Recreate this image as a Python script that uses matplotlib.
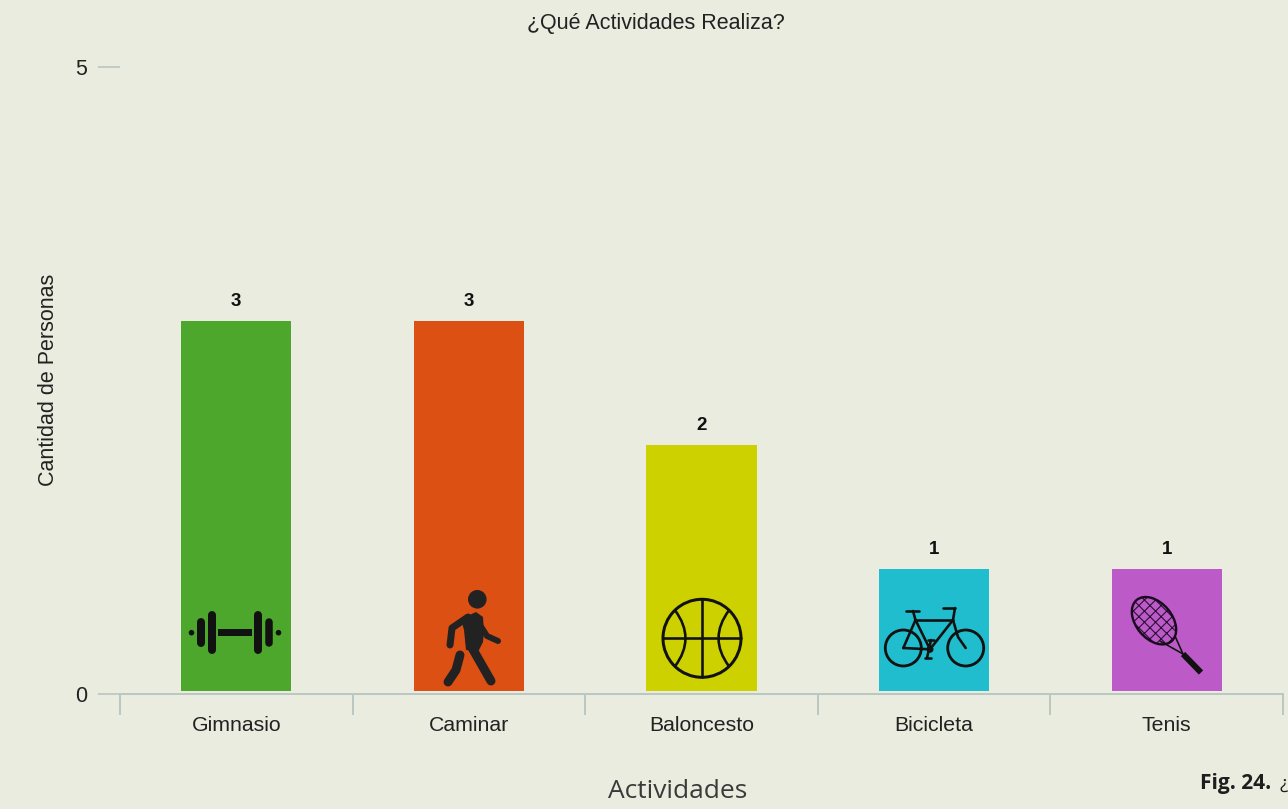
import matplotlib
matplotlib.use('Agg')
import matplotlib.pyplot as plt
import numpy as np
from matplotlib.patches import Circle, Ellipse, PathPatch, Polygon, Rectangle
from matplotlib.path import Path

actividades = ['Gimnasio', 'Caminar', 'Baloncesto', 'Bicicleta', 'Tenis']
personas = [3, 3, 2, 1, 1]
colores = ['#4CA72C', '#DD5014', '#CDD100', '#1FBDCD', '#BC5BC8']
ytick_labels = ['0', '5']

W, H = 1288, 809
fondo = '#EAECDF'
gris = '#B9C6C2'
texto = '#222222'
negro = '#111111'
px = 0.72  # 1 pixel en puntos

plt.rcParams['font.family'] = ['Liberation Sans', 'DejaVu Sans']
plt.rcParams['hatch.linewidth'] = 0.8

fig = plt.figure(figsize=(W / 100, H / 100), dpi=100, facecolor=fondo)
ax = fig.add_axes([120 / W, 1 - 693.5 / H, (1283 - 120) / W, (693.5 - 67) / H], facecolor=fondo)

# las barras arrancan un poco arriba del eje, igual que en la imagen
gap = 0.02
tope = 5.04  # en la imagen el 5 queda un poco mas alto que la escala de las barras
x = np.arange(len(actividades))
alturas = np.array(personas) - gap
ax.bar(x, alturas, bottom=gap, width=0.473, color=colores, linewidth=0)
for xi, v in zip(x, personas):
    ax.annotate(str(v), (xi, v), xytext=(0, 14), textcoords='offset points',
                ha='center', va='center', fontsize=13.5, fontweight='bold', color=negro)

ax.set_xlim(-0.5, len(actividades) - 0.5)
ax.set_ylim(0, tope)
ax.set_xticks(np.arange(len(actividades) + 1) - 0.5)
ax.set_xticklabels([])
ax.set_xticks(x, minor=True)
ax.set_xticklabels(actividades, minor=True, fontsize=15.3, color=texto)
ax.tick_params(axis='x', which='major', length=15, width=1.4, color=gris)
ax.tick_params(axis='x', which='minor', length=0, pad=16)
ax.set_yticks([0, tope])
ax.set_yticklabels(ytick_labels)
ax.tick_params(axis='y', length=15.5, width=1.2, color=gris, labelsize=15.5, labelcolor=texto, pad=8)
for s in ['top', 'right', 'left']:
    ax.spines[s].set_visible(False)
ax.spines['bottom'].set_color(gris)
ax.spines['bottom'].set_linewidth(1.4)

fig.text(656 / W, 1 - 23 / H, '¿Qué Actividades Realiza?', ha='center', va='center', fontsize=15.5, color=texto)
fig.text(49 / W, 1 - 380 / H, 'Cantidad de Personas', rotation=90, ha='center', va='center', fontsize=15.5, color=texto)
fig.text(678 / W, 1 - 791 / H, 'Actividades', ha='center', va='center', fontsize=19, color='#3A3A3A',
         family='Open Sans')
fig.text(1200 / W, 1 - 783 / H, 'Fig. 24.', ha='left', va='center', fontsize=15, fontweight='bold',
         color='#1E1E1E', family='Open Sans')
fig.text(1279 / W, 1 - 784 / H, '¿', ha='left', va='center', fontsize=14, color='#1E1E1E', family='Open Sans')

# capa en pixeles para los iconos dentro de las barras
ic = fig.add_axes([0, 0, 1, 1], facecolor='none')
ic.set_xlim(0, W)
ic.set_ylim(H, 0)
ic.axis('off')


def linea(xs, ys, lw, color=negro):
    ic.plot(xs, ys, color=color, lw=lw * px, solid_capstyle='round', solid_joinstyle='round')


# pesa
yc = 632.7
for xp, alto, grueso in [(201, 10.5, 8), (212, 17.5, 8), (258, 17.5, 8), (269.5, 10.5, 7.5)]:
    linea([xp, xp], [yc - alto, yc + alto], grueso)
ic.add_patch(Rectangle((218, yc - 3.5), 34, 7, color=negro, lw=0))
ic.add_patch(Circle((191.5, yc), 2.8, color=negro, lw=0))
ic.add_patch(Circle((278.5, yc), 2.8, color=negro, lw=0))

# persona caminando
c_caminar = '#222222'
ic.add_patch(Circle((477.3, 599.3), 9.3, color=c_caminar, lw=0))
ic.add_patch(Polygon([(461, 619), (476, 612), (483, 617), (484, 632), (483, 642), (478, 652), (466, 650), (464, 630)],
                     color=c_caminar, lw=0))
linea([468, 452, 450], [617, 628, 645], 7, c_caminar)
linea([480, 487, 498], [625, 636, 641], 6, c_caminar)
linea([471, 491], [646, 681], 9, c_caminar)
linea([460, 456, 448], [655, 670, 682], 9, c_caminar)

# pelota
cx, cy, r = 702, 638.3, 39
ic.add_patch(Circle((cx, cy), r, fill=False, ec=negro, lw=3 * px))
linea([cx, cx], [cy - r, cy + r], 2.6)
linea([cx - r, cx + r], [cy, cy], 2.6)
for xb, ctrl in [(675, 696), (729, 708)]:
    p = Path([(xb, cy - 28), (ctrl, cy), (xb, cy + 28)], [Path.MOVETO, Path.CURVE3, Path.CURVE3])
    ic.add_patch(PathPatch(p, fill=False, ec=negro, lw=2.6 * px))

# bicicleta
for wx in [903.3, 965.7]:
    ic.add_patch(Circle((wx, 648), 18, fill=False, ec=negro, lw=2.8 * px))
bici = [
    ([903.3, 930], [648, 649.3]),
    ([903.3, 915.5], [648, 620]),
    ([915.5, 930], [620, 649.3]),
    ([915.5, 953], [620, 620]),
    ([953, 930], [620, 649.3]),
    ([913, 915.5], [611, 620]),
    ([906, 919], [611, 611]),
    ([943, 955], [608, 608]),
    ([955, 953, 958, 965.7], [608, 620, 637, 648]),
    ([931, 929, 927], [640, 649, 658]),
    ([928, 934], [640, 640]),
    ([925, 931], [658, 658]),
]
for xs, ys in bici:
    linea(xs, ys, 2.6)
ic.add_patch(Circle((930, 649.3), 3.5, color=negro, lw=0))

# raqueta
cr = (1154, 620.7)
ic.add_patch(Ellipse(cr, 54, 36, angle=50, fill=False, ec='#2A0F33', hatch='xxx', lw=0))
ic.add_patch(Ellipse(cr, 54, 36, angle=50, fill=False, ec='#1A0A20', lw=2.4 * px))
linea([1160, 1183], [641, 654], 1.6)
linea([1175, 1183], [636, 654], 1.6)
ic.plot([1183, 1201], [654, 672.5], color=negro, lw=6 * px, solid_capstyle='butt')

fig.savefig('out.png', dpi=100, facecolor=fondo)
